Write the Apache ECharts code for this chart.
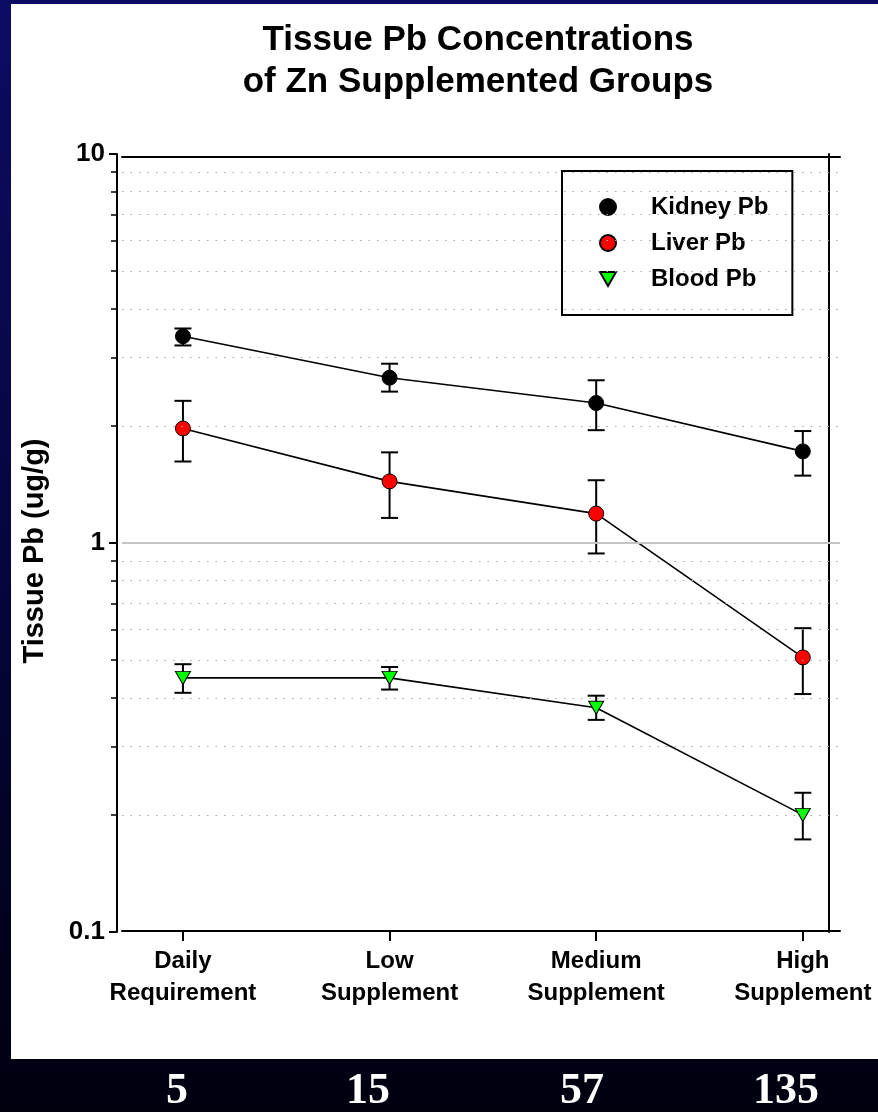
<!DOCTYPE html>
<html>
<head>
<meta charset="utf-8">
<script src="https://cdn.jsdelivr.net/npm/echarts@6/dist/echarts.min.js"></script>
<style>
  html, body { margin: 0; padding: 0; }
  body { width: 878px; height: 1112px; background: linear-gradient(to bottom, #0c0c64 0%, #05053a 55%, #00000f 100%); position: relative; overflow: hidden; }
  #panel { position: absolute; left: 11px; top: 4px; width: 867px; height: 1055px; background: #ffffff; }
  #chart { position: absolute; left: 0; top: 0; width: 878px; height: 1112px; }
</style>
</head>
<body>
<div id="panel"></div>
<div id="chart"></div>
<script>
// ---- data ----
const categories = ['Daily\nRequirement', 'Low\nSupplement', 'Medium\nSupplement', 'High\nSupplement'];
const categoryPositions = [1, 2, 3, 4];
const doseLabels = ['5', '15', '57', '135'];

const kidneyMean = [3.40, 2.66, 2.29, 1.72];
const kidneyLow  = [3.22, 2.45, 1.95, 1.49];
const kidneyHigh = [3.56, 2.89, 2.62, 1.94];

const liverMean = [1.97, 1.44, 1.19, 0.508];
const liverLow  = [1.62, 1.16, 0.94, 0.409];
const liverHigh = [2.32, 1.71, 1.45, 0.604];

const bloodMean = [0.450, 0.450, 0.377, 0.200];
const bloodLow  = [0.412, 0.420, 0.351, 0.173];
const bloodHigh = [0.488, 0.480, 0.405, 0.228];

const majorTicks = [0.1, 1, 10];
const minorTicks = [0.2, 0.3, 0.4, 0.5, 0.6, 0.7, 0.8, 0.9, 2, 3, 4, 5, 6, 7, 8, 9];

// ---- helpers ----
const pts = (arr) => arr.map((v, i) => [categoryPositions[i], v]);
const errs = (lo, hi) => lo.map((v, i) => [categoryPositions[i], v, hi[i]]);

function errorBarRender(params, api) {
  const x = api.value(0);
  const pLo = api.coord([x, api.value(1)]);
  const pHi = api.coord([x, api.value(2)]);
  const cap = 8.5;
  const style = { stroke: '#000', lineWidth: 2 };
  return {
    type: 'group',
    children: [
      { type: 'line', shape: { x1: pLo[0], y1: pLo[1], x2: pHi[0], y2: pHi[1] }, style },
      { type: 'line', shape: { x1: pLo[0] - cap, y1: pLo[1], x2: pLo[0] + cap, y2: pLo[1] }, style },
      { type: 'line', shape: { x1: pHi[0] - cap, y1: pHi[1], x2: pHi[0] + cap, y2: pHi[1] }, style }
    ]
  };
}

const FONT = '"Liberation Sans", Arial, Helvetica, sans-serif';

const chart = echarts.init(document.getElementById('chart'), null, { renderer: 'canvas' });

const gridMarkLines = minorTicks.map(v => ({ yAxis: v, lineStyle: { type: [1.5, 7], color: '#a8a8a8', width: 1 } }))
  .concat([{ yAxis: 1, lineStyle: { type: 'solid', color: '#c4c4c4', width: 2 } }]);

const option = {
  animation: false,
  backgroundColor: 'transparent',
  title: {
    text: 'Tissue Pb Concentrations\nof Zn Supplemented Groups',
    left: 478,
    top: 19,
    padding: 0,
    textAlign: 'center',
    textStyle: { fontFamily: FONT, fontWeight: 'bold', fontSize: 35, lineHeight: 42, color: '#000' }
  },
  legend: {
    orient: 'vertical',
    left: 562,
    top: 171,
    padding: [24, 24, 24, 37],
    itemGap: 12,
    itemWidth: 16,
    itemHeight: 16,
    backgroundColor: '#fff',
    borderColor: '#000',
    borderWidth: 2,
    borderRadius: 0,
    data: [
      { name: 'Kidney Pb', icon: 'circle' },
      { name: 'Liver Pb', icon: 'circle' },
      { name: 'Blood Pb', icon: 'path://M0,0L10,0L5,8.66Z' }
    ],
    textStyle: { fontFamily: FONT, fontWeight: 'bold', fontSize: 24, lineHeight: 24, color: '#000', padding: [0, 0, 0, 30] }
  },
  grid: { left: 122, right: 38, top: 154, bottom: 180 },
  xAxis: [
    {
      type: 'value', min: 0.705, max: 4.18, position: 'bottom', offset: -1,
      axisLine: { show: true, onZero: false, lineStyle: { color: '#000', width: 2 } },
      axisTick: { show: true, inside: false, length: 10, customValues: categoryPositions, lineStyle: { color: '#000', width: 2 } },
      axisLabel: {
        show: true, customValues: categoryPositions, margin: 14,
        formatter: (v) => categories[Math.round(v) - 1] || '',
        fontFamily: FONT, fontWeight: 'bold', fontSize: 24, lineHeight: 32, color: '#000'
      },
      splitLine: { show: false }
    },
    {
      type: 'value', min: 0.705, max: 4.18, position: 'top', offset: -3,
      axisLine: { show: true, onZero: false, lineStyle: { color: '#000', width: 2 } },
      axisTick: { show: false }, axisLabel: { show: false }, splitLine: { show: false }
    }
  ],
  yAxis: [
    {
      type: 'log', logBase: 10, min: 0.1, max: 10, position: 'left', offset: 5,
      axisLine: { show: true, lineStyle: { color: '#000', width: 2 } },
      axisTick: { show: true, length: 8, lineStyle: { color: '#000', width: 2 } },
      axisLabel: { show: true, margin: 12, fontFamily: FONT, fontWeight: 'bold', fontSize: 26, color: '#000',
        formatter: (v) => String(v) },
      splitLine: { show: false },
      minorTick: { show: false },
      name: 'Tissue Pb (ug/g)', nameLocation: 'middle', nameRotate: 90, nameGap: 68,
      nameTextStyle: { fontFamily: FONT, fontWeight: 'bold', fontSize: 29, color: '#000', padding: [0, 16, 0, 0] }
    },
    {
      type: 'log', logBase: 10, min: 0.1, max: 10, position: 'left', offset: 5,
      axisLine: { show: false },
      axisTick: { show: true, length: 6, customValues: minorTicks, lineStyle: { color: '#000', width: 1.5 } },
      axisLabel: { show: false }, splitLine: { show: false }
    },
    {
      type: 'log', logBase: 10, min: 0.1, max: 10, position: 'right', offset: -11,
      axisLine: { show: true, lineStyle: { color: '#000', width: 2 } },
      axisTick: { show: false }, axisLabel: { show: false }, splitLine: { show: false }
    }
  ],
  series: [
    {
      name: '_grid', type: 'line', data: [], xAxisIndex: 0, yAxisIndex: 0, z: 1, silent: true,
      markLine: { silent: true, symbol: ['none', 'none'], label: { show: false }, data: gridMarkLines }
    },
    { name: 'kidneyErr', type: 'custom', renderItem: errorBarRender, data: errs(kidneyLow, kidneyHigh), z: 2, encode: { x: 0, y: [1, 2] } },
    { name: 'liverErr', type: 'custom', renderItem: errorBarRender, data: errs(liverLow, liverHigh), z: 2, encode: { x: 0, y: [1, 2] } },
    { name: 'bloodErr', type: 'custom', renderItem: errorBarRender, data: errs(bloodLow, bloodHigh), z: 2, encode: { x: 0, y: [1, 2] } },
    {
      name: 'Kidney Pb', type: 'line', data: pts(kidneyMean), z: 3,
      symbol: 'circle', symbolSize: 15, showAllSymbol: true,
      lineStyle: { color: '#000', width: 1.6 },
      itemStyle: { color: '#000', borderColor: '#000', borderWidth: 1 }
    },
    {
      name: 'Liver Pb', type: 'line', data: pts(liverMean), z: 3,
      symbol: 'circle', symbolSize: 15, showAllSymbol: true,
      lineStyle: { color: '#000', width: 1.6 },
      itemStyle: { color: '#ff0000', borderColor: '#000', borderWidth: 1 }
    },
    {
      name: 'Blood Pb', type: 'line', data: pts(bloodMean), z: 3,
      symbol: 'path://M0,0L10,0L5,8.66Z', symbolSize: [15, 13], showAllSymbol: true,
      lineStyle: { color: '#000', width: 1.6 },
      itemStyle: { color: '#00ff00', borderColor: '#000', borderWidth: 1 }
    }
  ]
};

// dose labels under categories
const dosePx = [177, 368, 582, 786];
option.graphic = doseLabels.map((t, i) => ({
  type: 'text', x: dosePx[i], y: 1070, silent: true,
  style: { text: t, fill: '#fff', font: 'bold 44px "Liberation Serif", "Times New Roman", serif', textAlign: 'center', textVerticalAlign: 'top' }
}));

chart.setOption(option);
</script>
</body>
</html>
